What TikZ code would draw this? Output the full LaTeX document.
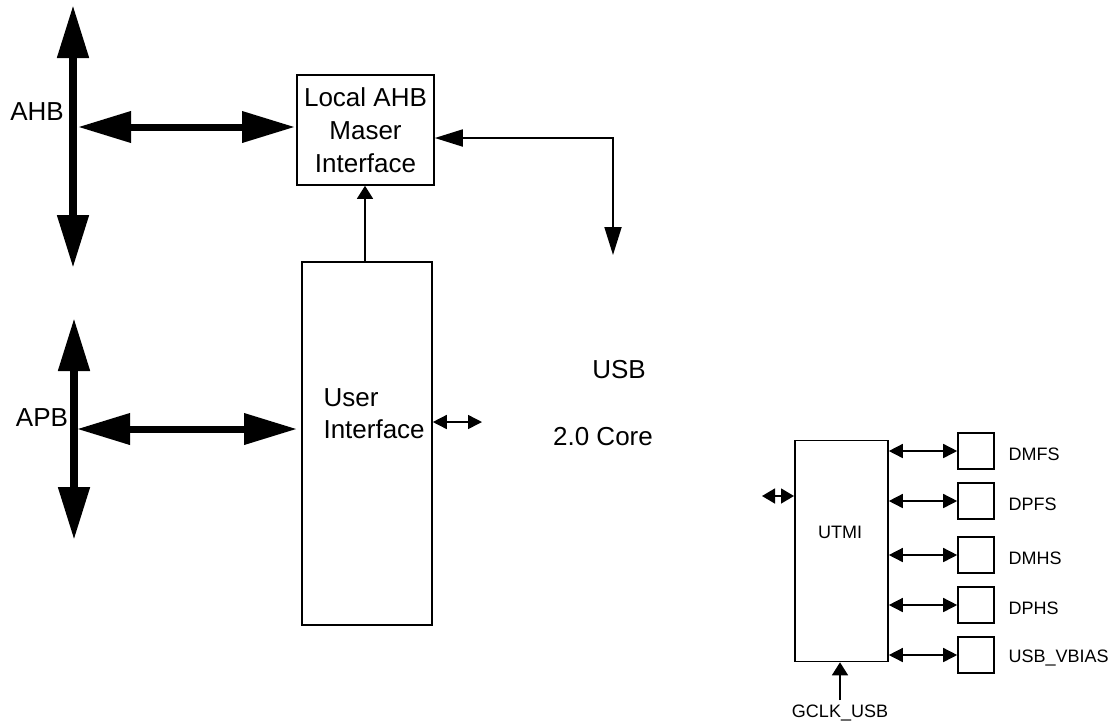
\documentclass[tikz,border=0pt]{standalone}
\usepackage{fontspec}
\setmainfont{Liberation Sans}
\usetikzlibrary{arrows.meta}
\begin{document}
\begin{tikzpicture}[x=1pt,y=-1pt,
  box/.style={draw,line width=1.6pt,inner sep=0pt,minimum width=#1},
  bigbus/.style={line width=8pt,{Triangle[length=53pt,width=30pt]}-{Triangle[length=53pt,width=30pt]}},
  bigh/.style={line width=7pt,{Triangle[length=53pt,width=30pt]}-{Triangle[length=53pt,width=30pt]}},
  midarr/.style={line width=1.8pt,{Triangle[length=28pt,width=17pt]}-{Triangle[length=28pt,width=17pt]}},
  smallarr/.style={line width=1.5pt,{Triangle[length=14pt,width=14pt]}-{Triangle[length=14pt,width=14pt]}},
  uparr/.style={line width=1.5pt,-{Triangle[length=13pt,width=16pt]}},
  bigtxt/.style={font=\fontsize{26}{33}\selectfont},
  smtxt/.style={font=\fontsize{18}{22}\selectfont}]
\useasboundingbox (0,0) rectangle (1110,724);
% boxes
\node[box=137pt,minimum height=110pt,bigtxt,align=center] (local) at (365.5,130) {Local AHB\\Maser\\Interface};
\node[box=130pt,minimum height=363pt] (ui) at (367,443.5) {};
\node[bigtxt,align=left,anchor=west,font=\fontsize{26}{32}\selectfont] (uitxt) at (320,414) {User\\Interface};
\node[box=93pt,minimum height=221pt] (utmi) at (841.5,551) {};
\node[smtxt] (utmitxt) at (840,532) {UTMI};
\foreach \n/\y/\t in {dmfs/451/DMFS,dpfs/501/DPFS,dmhs/555/DMHS,dphs/605/DPHS,vbias/655/USB\_VBIAS}{
  \node[box=36pt,minimum height=36pt] (\n) at (976,\y) {};
  \node[smtxt,anchor=west] (\n t) at (1005,\y+3) {\t};
  \draw[smallarr] (utmi.east |- \n.west) -- (\n.west);
}
% labels
\node[bigtxt] (ahbt) at (37,112) {AHB};
\node[bigtxt] (apbt) at (42,418) {APB};
\node[bigtxt] (usbt) at (619,370) {USB};
\node[bigtxt] (coret) at (603,437) {2.0 Core};
\node[smtxt] (gclk) at (840,713) {GCLK\_USB};
% AHB bus
\coordinate (ahbtop) at (73,5);
\coordinate (ahbbot) at (73,268);
\draw[bigbus] (ahbtop) -- (ahbbot);
\coordinate (ahbh) at (78,127);
\coordinate (ahbhr) at (295,127);
\draw[bigh] (ahbh) -- (ahbhr);
% APB bus
\coordinate (apbtop) at (74,318);
\coordinate (apbbot) at (74,540);
\draw[bigbus] (apbtop) -- (apbbot);
\coordinate (apbh) at (77,429);
\coordinate (apbhr) at (297,429);
\draw[bigh] (apbh) -- (apbhr);
% UI to local
\draw[uparr] (ui.north -| 365,0) -- (local.south -| 365,0);
% local to USB core
\coordinate (lr) at (local.east |- 0,138);
\coordinate (corner) at (613,138);
\coordinate (usbdown) at (613,255);
\draw[midarr] (lr) -- (corner) -- (usbdown);
% UI to core
\coordinate (uie) at (ui.east |- 0,422);
\coordinate (uiarr) at (482,422);
\draw[smallarr] (uie) -- (uiarr);
% UTMI left
\coordinate (ul1) at (762,496);
\coordinate (ul2) at (794,496);
\draw[line width=1.5pt,{Triangle[length=13pt,width=15pt]}-{Triangle[length=13pt,width=15pt]}] (ul1) -- (ul2);
% GCLK
\coordinate (gc) at (840,700);
\draw[uparr] (gc) -- (utmi.south -| gc);
\end{tikzpicture}
\end{document}
